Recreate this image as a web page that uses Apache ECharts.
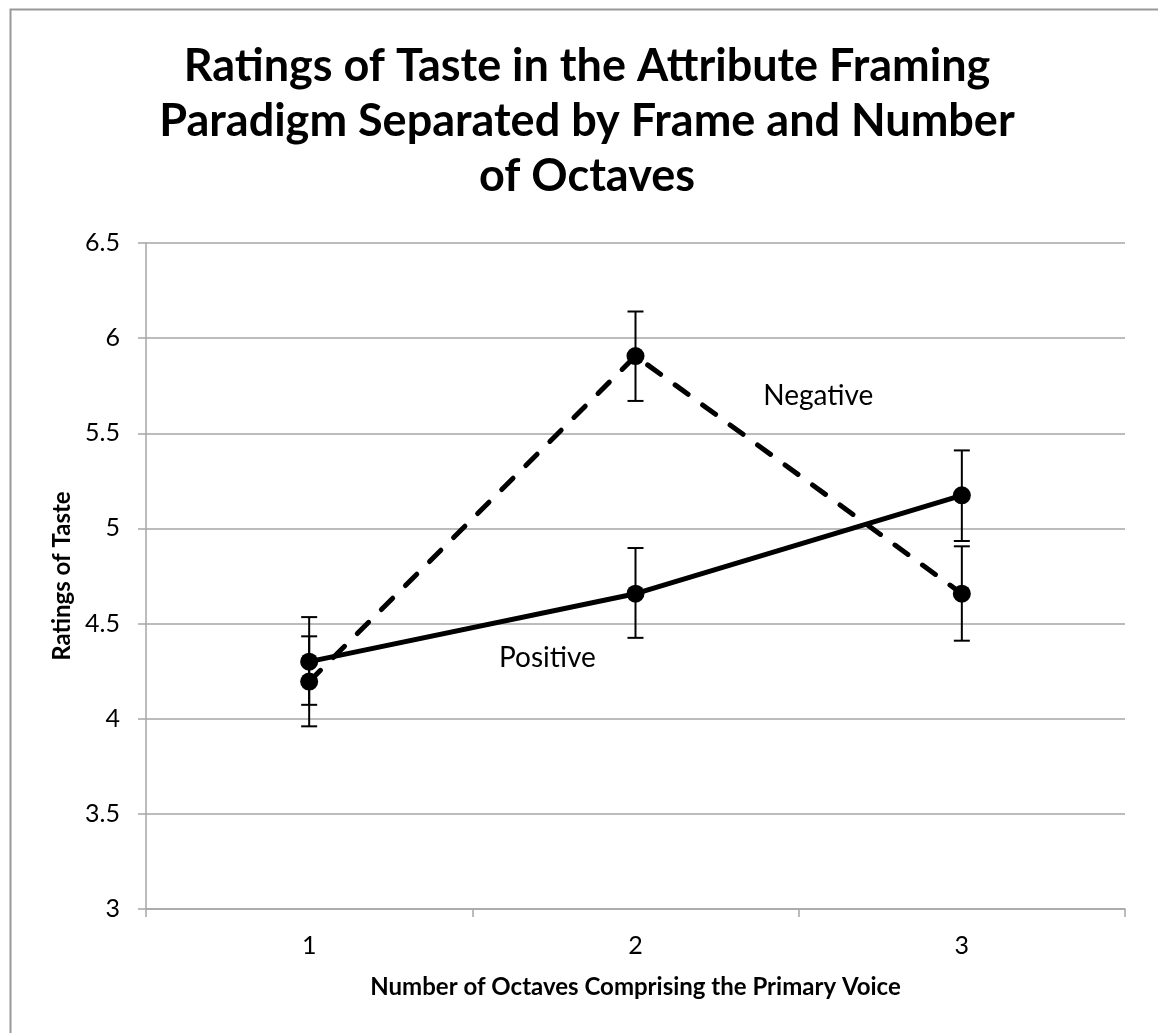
<!DOCTYPE html>
<html>
<head>
<meta charset="utf-8">
<script src="https://cdn.jsdelivr.net/npm/echarts@6/dist/echarts.min.js"></script>
<style>
  html, body { margin: 0; padding: 0; background: #fff; }
  #chart { width: 1158px; height: 1033px; }
</style>
</head>
<body>
<div id="chart"></div>
<script>
const categories = ['1', '2', '3'];

const positive = [4.30, 4.657, 5.174];
const positiveHigh = [4.534, 4.897, 5.41];
const positiveLow = [4.073, 4.425, 4.934];

const negative = [4.195, 5.906, 4.657];
const negativeHigh = [4.433, 6.14, 4.906];
const negativeLow = [3.96, 5.67, 4.41];

// where the two line labels sit, in axis units (category index, rating)
const labelSpots = [
  { text: 'Positive', at: [0.73, 4.317] },
  { text: 'Negative', at: [1.56, 5.694] }
];

const font = 'Lato, "Open Sans", sans-serif';
const gridColor = '#a6a6a6';

function errorBars(name, low, high) {
  return {
    name: name + ' error', type: 'custom', z: 4,
    data: low.map((l, i) => [i, l, high[i]]),
    renderItem: function (params, api) {
      const top = api.coord([api.value(0), api.value(2)]);
      const bot = api.coord([api.value(0), api.value(1)]);
      const w = 8;
      const style = { stroke: '#000', lineWidth: 2 };
      return {
        type: 'group',
        children: [
          { type: 'line', shape: { x1: top[0], y1: top[1], x2: bot[0], y2: bot[1] }, style },
          { type: 'line', shape: { x1: top[0] - w, y1: top[1], x2: top[0] + w, y2: top[1] }, style },
          { type: 'line', shape: { x1: bot[0] - w, y1: bot[1], x2: bot[0] + w, y2: bot[1] }, style }
        ]
      };
    }
  };
}

const chart = echarts.init(document.getElementById('chart'));

const option = {
  backgroundColor: '#ffffff',
  animation: false,
  textStyle: { fontFamily: font },
  title: {
    text: 'Ratings of Taste in the Attribute Framing\nParadigm Separated by Frame and Number\nof Octaves',
    left: 582, top: 34, textAlign: 'center',
    textStyle: { fontFamily: font, fontSize: 45, fontWeight: 'bold', color: '#000', lineHeight: 55 }
  },
  grid: { left: 146, right: 33, top: 243, bottom: 124 },
  xAxis: [{
    type: 'category', data: categories, boundaryGap: true,
    name: 'Number of Octaves Comprising the Primary Voice',
    nameLocation: 'middle', nameGap: 66,
    nameTextStyle: { fontFamily: font, fontSize: 24, fontWeight: 'bold', color: '#000' },
    axisLine: { lineStyle: { color: gridColor, width: 1.5 } },
    axisTick: { show: true, length: 8, lineStyle: { color: gridColor, width: 1.5 } },
    axisLabel: { fontSize: 25, color: '#000', margin: 24 }
  }, {
    // hidden helper axis, only used to place the text labels between categories
    type: 'value', min: -0.5, max: 2.5, show: false
  }],
  yAxis: {
    type: 'value', min: 3, max: 6.5, interval: 0.5,
    name: 'Ratings of Taste', nameLocation: 'middle', nameGap: 67, nameRotate: 90,
    nameTextStyle: { fontFamily: font, fontSize: 24, fontWeight: 'bold', color: '#000' },
    axisLine: { show: true, onZero: false, lineStyle: { color: gridColor, width: 1.5 } },
    axisTick: { show: true, length: 8, lineStyle: { color: gridColor, width: 1.5 } },
    axisLabel: { fontSize: 25, color: '#000', margin: 26 },
    splitLine: { lineStyle: { color: gridColor, width: 1.5 } }
  },
  graphic: [{
    type: 'rect', left: 8, top: 7, z: -1,
    shape: { width: 1200, height: 1100 },
    style: { fill: 'none', stroke: '#999', lineWidth: 2 }
  }],
  series: [
    {
      name: 'Negative', type: 'line', data: negative, z: 3,
      symbol: 'circle', symbolSize: 18, itemStyle: { color: '#000' },
      lineStyle: { color: '#000', width: 5, type: [16, 18], cap: 'round' }
    },
    {
      name: 'Positive', type: 'line', data: positive, z: 3,
      symbol: 'circle', symbolSize: 18, itemStyle: { color: '#000' },
      lineStyle: { color: '#000', width: 5 }
    },
    errorBars('Negative', negativeLow, negativeHigh),
    errorBars('Positive', positiveLow, positiveHigh)
  ]
};

chart.setOption(option);

// put the series names next to their lines
const texts = labelSpots.map(s => {
  const p = chart.convertToPixel({ xAxisIndex: 1, yAxisIndex: 0 }, s.at);
  return {
    type: 'text', x: p[0], y: p[1],
    style: { text: s.text, fontFamily: font, fontSize: 28, fill: '#000', align: 'center', verticalAlign: 'middle' }
  };
});
chart.setOption({ graphic: option.graphic.concat(texts) });
</script>
</body>
</html>
